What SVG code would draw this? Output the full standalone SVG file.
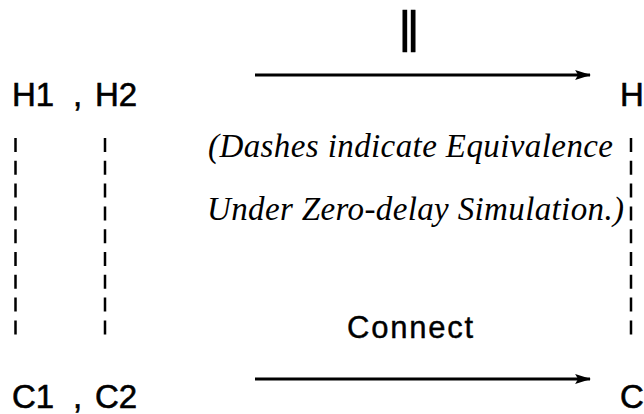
<svg xmlns="http://www.w3.org/2000/svg" width="644" height="414" viewBox="0 0 644 414">
  <style>
    .node { font-family: "Liberation Sans", Arial, sans-serif; font-size: 33px; fill: #000; stroke: #000; stroke-width: 0.6px; }
    .note { font-family: "Liberation Serif", "Times New Roman", serif; font-style: italic; font-size: 33px; fill: #000; }
    .label { font-family: "Liberation Sans", Arial, sans-serif; font-size: 31px; fill: #000; stroke: #000; stroke-width: 0.4px; }
    .arrow { stroke: #000; stroke-width: 3.2; fill: none; marker-end: url(#head); }
    .equiv { stroke: #000; stroke-width: 2.5; fill: none; stroke-dasharray: 14 8.8; }
  </style>
  <defs>
    <marker id="head" viewBox="0 0 16 10" refX="15" refY="5" markerWidth="5" markerHeight="3.1" orient="auto" markerUnits="strokeWidth">
      <path d="M0,0 L16,5 L0,10 L3,5 Z" fill="#000"/>
    </marker>
  </defs>
  <rect width="644" height="414" fill="#fff"/>

  <g id="connectors">
    <line class="arrow" x1="255" y1="75" x2="590" y2="75"/>
    <line class="arrow" x1="255" y1="379" x2="590" y2="379"/>
    <line class="equiv" x1="15.5" y1="138" x2="15.5" y2="335"/>
    <line class="equiv" x1="105" y1="138" x2="105" y2="335"/>
    <line class="equiv" x1="631" y1="138" x2="631" y2="335"/>
  </g>

  <!-- parallel-composition label, stretched to the tall TeX form -->
  <g id="label-parallel">
    <text class="label" transform="translate(409,51.5) scale(1.3,1.45)" x="0" y="0" text-anchor="middle" style="font-size:40px;stroke-width:0.3px">‖</text>
  </g>
  <g id="label-connect">
    <text class="label" x="347" y="338" textLength="126" lengthAdjust="spacing">Connect</text>
  </g>

  <g id="node-h12">
    <text class="node" x="12" y="106">H1</text>
    <text class="node" x="73" y="106">,</text>
    <text class="node" x="95" y="106">H2</text>
  </g>
  <g id="node-h">
    <text class="node" x="620" y="106">H</text>
  </g>
  <g id="node-c12">
    <text class="node" x="12" y="408">C1</text>
    <text class="node" x="73" y="408">,</text>
    <text class="node" x="95" y="408">C2</text>
  </g>
  <g id="node-c">
    <text class="node" x="620" y="408">C</text>
  </g>

  <g id="note">
    <text class="note" x="208" y="157" textLength="405" lengthAdjust="spacing">(Dashes indicate Equivalence</text>
    <text class="note" x="207" y="220" textLength="417" lengthAdjust="spacing">Under Zero-delay Simulation.)</text>
  </g>
</svg>
